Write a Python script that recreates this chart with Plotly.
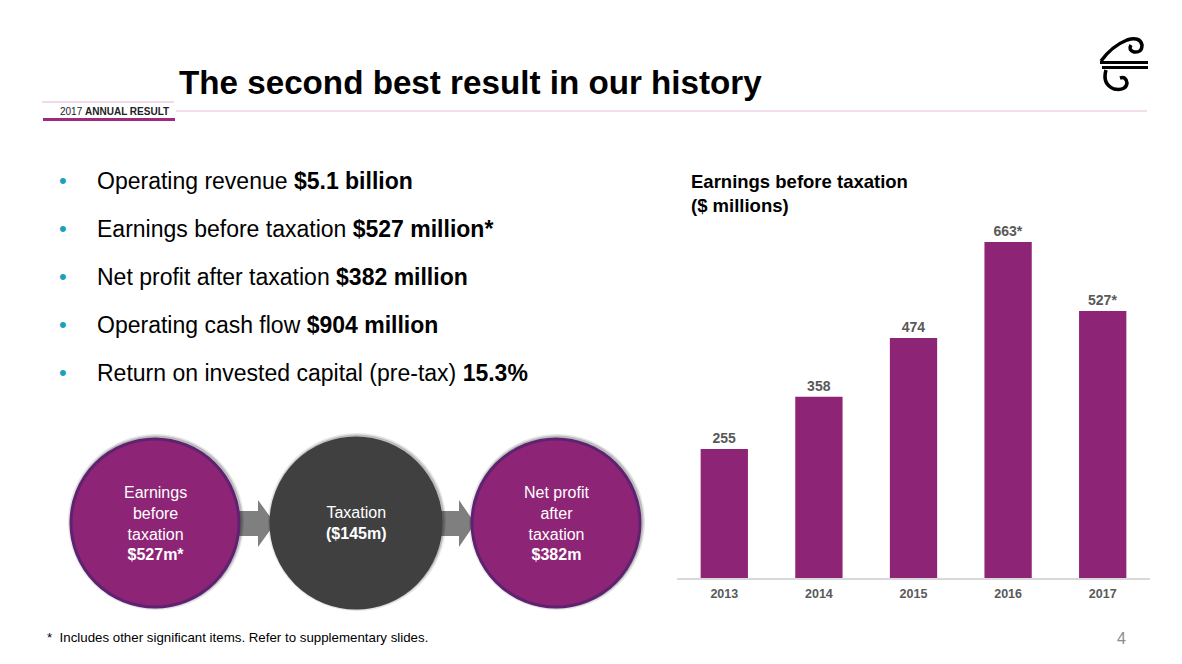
import plotly.graph_objects as go

# ---------------- data ----------------
years = ["2013", "2014", "2015", "2016", "2017"]
ebt_values = [255, 358, 474, 663, 527]
bar_labels = ["255", "358", "474", "663*", "527*"]

bullet_regular = ["Operating revenue ", "Earnings before taxation ", "Net profit after taxation ",
                  "Operating cash flow ", "Return on invested capital (pre-tax) "]
bullet_bold = ["$5.1 billion", "$527 million*", "$382 million", "$904 million", "15.3%"]

circle_texts = [
    "Earnings<br>before<br>taxation<br><b>$527m*</b>",
    "Taxation<br><b>($145m)</b>",
    "Net profit<br>after<br>taxation<br><b>$382m</b>",
]

W, H = 1182, 664
FONT = "Liberation Sans, Arial, sans-serif"
PURPLE = "#8E2476"
PURPLE_EDGE = "#5E2270"
DARK = "#404040"
ARROW = "#7F7F7F"
TEAL = "#1AA0B8"

fig = go.Figure()

fig.add_trace(go.Bar(
    x=years, y=ebt_values, text=bar_labels, textposition="outside",
    textfont=dict(family=FONT, size=14, color="#595959"),
    texttemplate="<b>%{text}</b>",
    marker=dict(color=PURPLE, line=dict(width=0)),
    cliponaxis=False, hoverinfo="skip", showlegend=False,
))

# dummy trace on pixel overlay axes
fig.add_trace(go.Scatter(x=[None], y=[None], xaxis="x2", yaxis="y2",
                         showlegend=False, hoverinfo="skip"))

base_px = 578.4
top_px = 200.0
px_per_unit = 0.5074
fig.update_layout(
    width=W, height=H,
    margin=dict(l=0, r=0, t=0, b=0),
    paper_bgcolor="white", plot_bgcolor="rgba(0,0,0,0)",
    bargap=0.5,
    font=dict(family=FONT),
    xaxis=dict(domain=[677 / W, 1150 / W], type="category",
               showline=True, linecolor="#D9D9D9", linewidth=1.5,
               ticks="outside", ticklen=3, tickcolor="rgba(0,0,0,0)",
               tickvals=years, ticktext=["<b>%s</b>" % y for y in years],
               tickfont=dict(family=FONT, size=12.5, color="#595959"),
               showgrid=False, zeroline=False, fixedrange=True),
    yaxis=dict(domain=[1 - base_px / H, 1 - top_px / H],
               range=[0, (base_px - top_px) / px_per_unit],
               visible=False, showgrid=False, zeroline=False, fixedrange=True),
    xaxis2=dict(domain=[0, 1], range=[0, W], visible=False, anchor="y2", fixedrange=True),
    yaxis2=dict(domain=[0, 1], range=[H, 0], visible=False, anchor="x2", fixedrange=True),
)

shapes = []
annots = []

def px_ann(x, y, text, size, color="black", xanchor="left", yanchor="middle", align="left", family=FONT):
    annots.append(dict(x=x, y=y, xref="x2", yref="y2", text=text, showarrow=False,
                       xanchor=xanchor, yanchor=yanchor, align=align,
                       font=dict(family=family, size=size, color=color)))

# ---------------- header ----------------
px_ann(177, 82, "<b>The second best result in our history</b>", 33.2, color="black")
shapes.append(dict(type="line", xref="x2", yref="y2", x0=42, x1=174, y0=102, y1=102,
                   line=dict(color="#E3B3D7", width=1.2)))
shapes.append(dict(type="line", xref="x2", yref="y2", x0=176, x1=1147, y0=111, y1=111,
                   line=dict(color="#E6BCDB", width=1.2)))
shapes.append(dict(type="line", xref="x2", yref="y2", x0=43, x1=175, y0=119.5, y1=119.5,
                   line=dict(color="#9E2A7F", width=3)))
px_ann(171, 111, "2017 <b>ANNUAL RESULT</b>", 10, color="#222222", xanchor="right")

# logo (stylised)
shapes.append(dict(type="line", xref="x2", yref="y2", x0=1100, x1=1148, y0=62.5, y1=62.5,
                   line=dict(color="black", width=3)))
shapes.append(dict(type="line", xref="x2", yref="y2", x0=1102, x1=1148, y0=67.5, y1=67.5,
                   line=dict(color="black", width=3)))
shapes.append(dict(type="path", xref="x2", yref="y2",
                   path="M 1101,61 Q 1112,46 1127,40 Q 1140,36 1142,45 Q 1142,53 1134,52 Q 1128,50 1131,45",
                   line=dict(color="black", width=3.5)))
shapes.append(dict(type="path", xref="x2", yref="y2",
                   path="M 1106,70 Q 1102,84 1114,89 Q 1126,91 1127,83 Q 1126,76 1120,78",
                   line=dict(color="black", width=3.5)))

# ---------------- bullets ----------------
for i, (r, b) in enumerate(zip(bullet_regular, bullet_bold)):
    y = 181 + 48 * i
    px_ann(63, y - 1, "•", 22, color=TEAL, xanchor="center")
    px_ann(95, y, r + "<b>" + b + "</b>", 23, color="black")

# ---------------- flow circles ----------------
# arrows
for (x0, xm, x1) in [(236, 258, 275), (436, 459, 475)]:
    shapes.append(dict(type="path", xref="x2", yref="y2", layer="above",
                       path=f"M {x0},511 L {xm},511 L {xm},500 L {x1},523.5 L {xm},547 L {xm},536 L {x0},536 Z",
                       fillcolor=ARROW, line=dict(width=0)))

circles = [(155, 523, 84, PURPLE, PURPLE_EDGE), (356, 523, 85, DARK, DARK), (556, 523, 84, PURPLE, PURPLE_EDGE)]
for cx, cy, r, fc, ec in circles:
    # soft shadow
    for k, op in [(4, 0.10), (2.5, 0.18)]:
        shapes.append(dict(type="circle", xref="x2", yref="y2", layer="above",
                           x0=cx - r - k + 1, x1=cx + r + k + 1, y0=cy - r - k - 1, y1=cy + r + k - 1,
                           fillcolor="rgba(0,0,0,%s)" % op, line=dict(width=0)))
    shapes.append(dict(type="circle", xref="x2", yref="y2", layer="above",
                       x0=cx - r, x1=cx + r, y0=cy - r, y1=cy + r,
                       fillcolor=fc, line=dict(color=ec, width=3)))

for (cx, cy, r, fc, ec), t in zip(circles, circle_texts):
    annots.append(dict(x=cx, y=cy, xref="x2", yref="y2", text=t, showarrow=False,
                       xanchor="center", yanchor="middle", align="center",
                       font=dict(family=FONT, size=16, color="white")))

# ---------------- chart title / footnote ----------------
px_ann(689, 193, "<b>Earnings before taxation<br>($ millions)</b>", 18.5, color="black")
px_ann(45, 637, "*  Includes other significant items. Refer to supplementary slides.", 13.3, color="black")
px_ann(1121, 638, "4", 16, color="#8C8C8C", xanchor="center")

fig.update_layout(shapes=shapes, annotations=annots)
fig.write_html("out.html")
